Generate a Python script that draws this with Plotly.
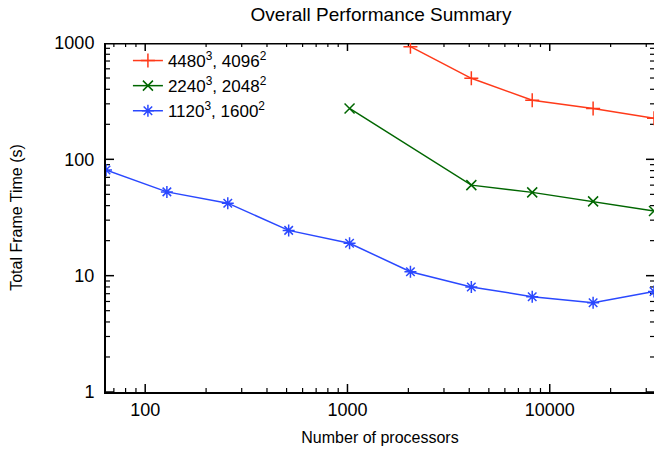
import plotly.graph_objects as go
import math

processors = [64, 128, 256, 512, 1024, 2048, 4096, 8192, 16384, 32768]

procs_large = [2048, 4096, 8192, 16384, 32768]
time_large = [930, 497, 322, 274, 225]

procs_medium = [1024, 4096, 8192, 16384, 32768]
time_medium = [274, 60, 52, 43.5, 36]

procs_small = processors
time_small = [81, 52.5, 42, 24.5, 19, 10.8, 8.0, 6.6, 5.85, 7.3]

series_names = ["4480<sup>3</sup>, 4096<sup>2</sup>",
                "2240<sup>3</sup>, 2048<sup>2</sup>",
                "1120<sup>3</sup>, 1600<sup>2</sup>"]
series_colors = ["#ff3a1a", "#006600", "#2a48ff"]
series_symbols = ["cross-thin", "x-thin", "asterisk"]

x_ticks = [100, 1000, 10000]
y_ticks = [1, 10, 100, 1000]
x_minor = [m * 10 ** e for e in range(1, 5) for m in range(2, 10)]
y_minor = [m * 10 ** e for e in range(0, 3) for m in range(2, 10)]

FONT = "Liberation Sans, Arial, sans-serif"
W, H = 654, 451
ML, MR, MT, MB = 106, 0, 43, 59
PW, PH = W - ML - MR, H - MT - MB

X_MIN, X_MAX = processors[0], processors[-1]
Y_MIN, Y_MAX = y_ticks[0], y_ticks[-1]
xr = [math.log10(X_MIN), math.log10(X_MAX)]
yr = [math.log10(Y_MIN), math.log10(Y_MAX)]
xspan, yspan = xr[1] - xr[0], yr[1] - yr[0]


def tick_path(major_len, minor_len):
    """Tick marks on all four sides, built from the tick value lists."""
    tx, ty = [], []
    for vals, ln in [(x_ticks, major_len), (x_minor, minor_len)]:
        for v in vals:
            if not (X_MIN < v < X_MAX):
                continue
            d = yspan * ln / PH
            tx += [v, v, None, v, v, None]
            ty += [Y_MIN, 10 ** (yr[0] + d), None, Y_MAX, 10 ** (yr[1] - d), None]
    for vals, ln in [(y_ticks, major_len), (y_minor, minor_len)]:
        for v in vals:
            d = xspan * ln / PW
            tx += [X_MIN, 10 ** (xr[0] + d), None, X_MAX, 10 ** (xr[1] - d), None]
            ty += [v, v, None, v, v, None]
    return tx, ty


fig = go.Figure()

maj_x, maj_y = tick_path(8, 0)
fig.add_trace(go.Scatter(x=maj_x, y=maj_y, mode="lines", showlegend=False,
                         hoverinfo="skip", line=dict(color="black", width=1.5)))
min_x, min_y = tick_path(0, 4)
fig.add_trace(go.Scatter(x=min_x, y=min_y, mode="lines", showlegend=False,
                         hoverinfo="skip", line=dict(color="black", width=1.2)))
# top frame edge
fig.add_trace(go.Scatter(x=[X_MIN, X_MAX], y=[Y_MAX, Y_MAX], mode="lines",
                         showlegend=False, hoverinfo="skip",
                         line=dict(color="black", width=3)))

data = [(procs_large, time_large), (procs_medium, time_medium), (procs_small, time_small)]
for (xs, ys), name, col, sym in zip(data, series_names, series_colors, series_symbols):
    fig.add_trace(go.Scatter(
        x=xs, y=ys, name=name, mode="lines+markers",
        line=dict(color=col, width=1.5),
        marker=dict(symbol=sym, size=10, color=col, line=dict(color=col, width=1.5)),
    ))

fig.update_layout(
    width=W, height=H,
    margin=dict(l=ML, r=MR, t=MT, b=MB, pad=0),
    paper_bgcolor="white", plot_bgcolor="white",
    font=dict(family=FONT, size=17, color="black"),
    title=dict(text="Overall Performance Summary", x=381 / W, xanchor="center",
               xref="container", yref="container", y=1 - 14 / H, yanchor="middle",
               font=dict(size=19, family=FONT)),
    showlegend=True,
    legend=dict(x=0.04, y=1.0, xanchor="left", yanchor="top",
                bgcolor="rgba(0,0,0,0)", font=dict(size=17, family=FONT),
                tracegroupgap=0),
    xaxis=dict(type="log", range=xr, automargin=False, showgrid=False, zeroline=False,
               tickmode="array", tickvals=x_ticks, ticktext=[str(v) for v in x_ticks],
               ticks="", showline=True, linecolor="black", linewidth=2,
               title=dict(text="Number of processors", standoff=13, font=dict(size=16)),
               tickfont=dict(size=18)),
    yaxis=dict(type="log", range=yr, automargin=False, showgrid=False, zeroline=False,
               tickmode="array", tickvals=y_ticks, ticktext=[str(v) for v in y_ticks],
               ticks="", ticklabelstandoff=6,
               showline=True, linecolor="black", linewidth=2,
               title=dict(text="Total Frame Time (s)", standoff=28, font=dict(size=16)),
               tickfont=dict(size=18)),
)

fig.write_html(
    "out.html",
    config={"displayModeBar": False},
    post_script="document.body.style.margin='0';document.body.style.overflow='hidden';",
)
